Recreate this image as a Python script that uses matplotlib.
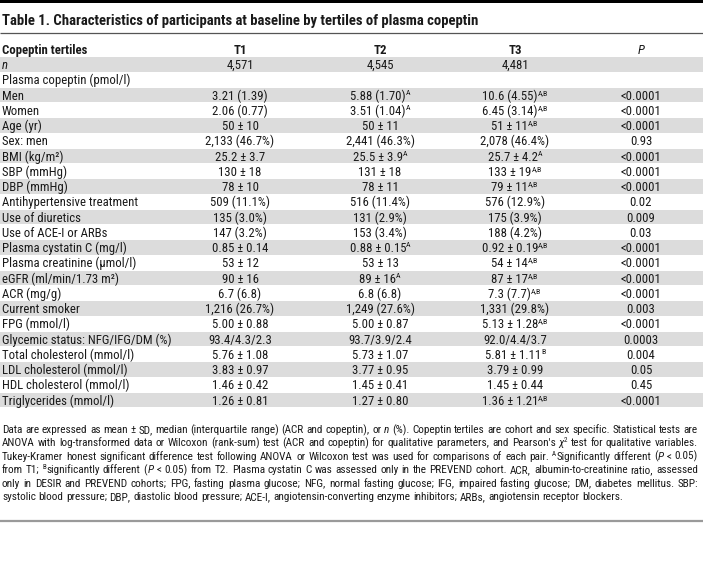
import matplotlib
matplotlib.use('Agg')
import matplotlib.pyplot as plt
from matplotlib import font_manager
from matplotlib.patches import Rectangle

# ---------------- data ----------------
title = "Table 1. Characteristics of participants at baseline by tertiles of plasma copeptin"
col_headers = ["Copeptin tertiles", "T1", "T2", "T3", "P"]

row_labels = ["n", "Plasma copeptin (pmol/l)", "Men", "Women", "Age (yr)", "Sex: men",
              "BMI (kg/m\u00b2)", "SBP (mmHg)", "DBP (mmHg)", "Antihypertensive treatment",
              "Use of diuretics", "Use of ACE-I or ARBs", "Plasma cystatin C (mg/l)",
              "Plasma creatinine (\u03bcmol/l)", "eGFR (ml/min/1.73 m\u00b2)", "ACR (mg/g)",
              "Current smoker", "FPG (mmol/l)", "Glycemic status: NFG/IFG/DM (%)",
              "Total cholesterol (mmol/l)", "LDL cholesterol (mmol/l)",
              "HDL cholesterol (mmol/l)", "Triglycerides (mmol/l)"]

t1_vals = ["4,571", "", "3.21 (1.39)", "2.06 (0.77)", "50 \u00b1 10", "2,133 (46.7%)",
           "25.2 \u00b1 3.7", "130 \u00b1 18", "78 \u00b1 10", "509 (11.1%)", "135 (3.0%)",
           "147 (3.2%)", "0.85 \u00b1 0.14", "53 \u00b1 12", "90 \u00b1 16", "6.7 (6.8)",
           "1,216 (26.7%)", "5.00 \u00b1 0.88", "93.4/4.3/2.3", "5.76 \u00b1 1.08",
           "3.83 \u00b1 0.97", "1.46 \u00b1 0.42", "1.26 \u00b1 0.81"]
t1_sup = [""] * 23

t2_vals = ["4,545", "", "5.88 (1.70)", "3.51 (1.04)", "50 \u00b1 11", "2,441 (46.3%)",
           "25.5 \u00b1 3.9", "131 \u00b1 18", "78 \u00b1 11", "516 (11.4%)", "131 (2.9%)",
           "153 (3.4%)", "0.88 \u00b1 0.15", "53 \u00b1 13", "89 \u00b1 16", "6.8 (6.8)",
           "1,249 (27.6%)", "5.00 \u00b1 0.87", "93.7/3.9/2.4", "5.73 \u00b1 1.07",
           "3.77 \u00b1 0.95", "1.45 \u00b1 0.41", "1.27 \u00b1 0.80"]
t2_sup = ["", "", "A", "A", "", "", "A", "", "", "", "", "", "A", "", "A", "",
          "", "", "", "", "", "", ""]

t3_vals = ["4,481", "", "10.6 (4.55)", "6.45 (3.14)", "51 \u00b1 11", "2,078 (46.4%)",
           "25.7 \u00b1 4.2", "133 \u00b1 19", "79 \u00b1 11", "576 (12.9%)", "175 (3.9%)",
           "188 (4.2%)", "0.92 \u00b1 0.19", "54 \u00b1 14", "87 \u00b1 17", "7.3 (7.7)",
           "1,331 (29.8%)", "5.13 \u00b1 1.28", "92.0/4.4/3.7", "5.81 \u00b1 1.11",
           "3.79 \u00b1 0.99", "1.45 \u00b1 0.44", "1.36 \u00b1 1.21"]
t3_sup = ["", "", "A,B", "A,B", "A,B", "", "A", "A,B", "A,B", "", "", "", "A,B", "A,B",
          "A,B", "A,B", "", "A,B", "", "B", "", "", "A,B"]

p_vals = ["", "", "<0.0001", "<0.0001", "<0.0001", "0.93", "<0.0001", "<0.0001", "<0.0001",
          "0.02", "0.009", "0.03", "<0.0001", "<0.0001", "<0.0001", "<0.0001", "0.003",
          "<0.0001", "0.0003", "0.004", "0.05", "0.45", "<0.0001"]

footnote = [
    [("Data are expressed as mean \u00b1 SD, median (interquartile range) (ACR and copeptin), or ", "n"),
     ("n", "i"), (" (%). Copeptin tertiles are cohort and sex specific. Statistical tests are", "n")],
    [("ANOVA with log-transformed data or Wilcoxon (rank-sum) test (ACR and copeptin) for qualitative parameters, and Pearson's ", "n"),
     ("\u03c7", "i"), ("2", "sup"), (" test for qualitative variables.", "n")],
    [("Tukey-Kramer honest significant difference test following ANOVA or Wilcoxon test was used for comparisons of each pair. ", "n"),
     ("A", "sup"), ("Significantly different (", "n"), ("P", "i"), (" < 0.05)", "n")],
    [("from T1; ", "n"), ("B", "sup"), ("significantly different (", "n"), ("P", "i"),
     (" < 0.05) from T2. Plasma cystatin C was assessed only in the PREVEND cohort. ACR, albumin-to-creatinine ratio, assessed", "n")],
    [("only in DESIR and PREVEND cohorts; FPG, fasting plasma glucose; NFG, normal fasting glucose; IFG, impaired fasting glucose; DM, diabetes mellitus. SBP:", "n")],
    [("systolic blood pressure; DBP, diastolic blood pressure; ACE-I, angiotensin-converting enzyme inhibitors; ARBs, angiotensin receptor blockers.", "n")],
]

# ---------------- layout ----------------
W, H = 703, 575
fig = plt.figure(figsize=(W / 100, H / 100), dpi=100)
ax = fig.add_axes([0, 0, 1, 1])
ax.set_xlim(0, W)
ax.set_ylim(H, 0)
ax.axis('off')
R = fig.canvas.get_renderer()


def pick(names):
    for n in names:
        try:
            font_manager.findfont(font_manager.FontProperties(family=n), fallback_to_default=False)
            return n
        except Exception:
            pass
    return 'DejaVu Sans'


FONT = pick(['Roboto Condensed', 'Liberation Sans Narrow', 'Open Sans Condensed', 'Roboto'])
FAM = [FONT, 'DejaVu Sans']
TXT = '#1a1a1a'


def style_kw(st, size):
    kw = dict(family=FAM, fontsize=size, color=TXT)
    if st == 'b':
        kw['fontweight'] = 'bold'
    if st == 'i':
        kw['fontstyle'] = 'italic'
    if st == 'sup':
        kw['fontsize'] = size * 0.62
    return kw


def meas(text, st, size):
    t = ax.text(0, 0, text, **style_kw(st, size))
    w = t.get_window_extent(R).width
    t.remove()
    return w


def runs_width(runs, size):
    w = 0
    for text, st in runs:
        w += meas(text.replace(' ', '\u00a0'), st, size)
    return w


def draw_runs(x, yc, runs, size, ha='left'):
    spx = size * 100 / 72
    base = yc + 0.36 * spx
    total = runs_width(runs, size)
    if ha == 'center':
        x = x - total / 2
    for text, st in runs:
        tx = text.replace(' ', '\u00a0')
        yy = base - (0.38 * spx if st == 'sup' else 0)
        ax.text(x, yy, tx, va='baseline', ha='left', **style_kw(st, size))
        x += meas(tx, st, size)


def fit(text, st, target):
    return 10 * target / meas(text, st, 10)


TITLE_FS = fit(title, 'b', 480)
BODY_FS = fit("Antihypertensive treatment", 'n', 134)
FOOT_FS = fit(footnote[1][0][0] + "\u03c72 test for qualitative variables.", 'n', 686)

# top black bar and rules
ax.add_patch(Rectangle((0, 0), W, 3, color='black', lw=0))
ax.plot([0, W], [33, 33], color='#555555', lw=0.9, solid_capstyle='butt')
ax.plot([0, W], [520.5, 520.5], color='#9a9a9a', lw=1.6, solid_capstyle='butt')

LEFT = 2
draw_runs(LEFT, 20, [(title, 'b')], TITLE_FS)

col_x = [240, 380, 515, 641]
HEAD_Y = 49
draw_runs(LEFT, HEAD_Y, [(col_headers[0], 'b')], BODY_FS)
for cx, h in zip(col_x[:3], col_headers[1:4]):
    draw_runs(cx, HEAD_Y, [(h, 'b')], BODY_FS, ha='center')
draw_runs(col_x[3], HEAD_Y, [(col_headers[4], 'i')], BODY_FS, ha='center')

ROW0, PITCH = 64.5, 15.25
for i, lab in enumerate(row_labels):
    yc = ROW0 + i * PITCH
    if i % 2 == 0:
        ax.add_patch(Rectangle((0, yc - PITCH / 2 + 0.3), W, PITCH - 0.6, color='#dcdcdc', lw=0))
    draw_runs(LEFT, yc, [(lab, 'i' if lab == 'n' else 'n')], BODY_FS)
    for cx, vals, sups in zip(col_x[:3], [t1_vals, t2_vals, t3_vals], [t1_sup, t2_sup, t3_sup]):
        if vals[i]:
            runs = [(vals[i], 'n')]
            if sups[i]:
                runs.append((sups[i], 'sup'))
            draw_runs(cx, yc, runs, BODY_FS, ha='center')
    if p_vals[i]:
        draw_runs(col_x[3], yc, [(p_vals[i], 'n')], BODY_FS, ha='center')


def to_words(runs):
    words = [[]]
    for text, st in runs:
        parts = text.split(' ')
        for k, p in enumerate(parts):
            if k > 0:
                words.append([])
            if p:
                words[-1].append((p, st))
    return [w for w in words if w]


FOOT0, FPITCH = 429, 13.4
RIGHT = 698
space_w = meas("a a", 'n', FOOT_FS) - meas("aa", 'n', FOOT_FS)
for j, line in enumerate(footnote):
    yc = FOOT0 + j * FPITCH
    words = to_words(line)
    wws = [runs_width(w, FOOT_FS) for w in words]
    if j < len(footnote) - 1 and len(words) > 1:
        gap = (RIGHT - LEFT - sum(wws)) / (len(words) - 1)
    else:
        gap = space_w
    x = LEFT
    for w, ww in zip(words, wws):
        draw_runs(x, yc, w, FOOT_FS)
        x += ww + gap

fig.savefig('out.png', dpi=100)
